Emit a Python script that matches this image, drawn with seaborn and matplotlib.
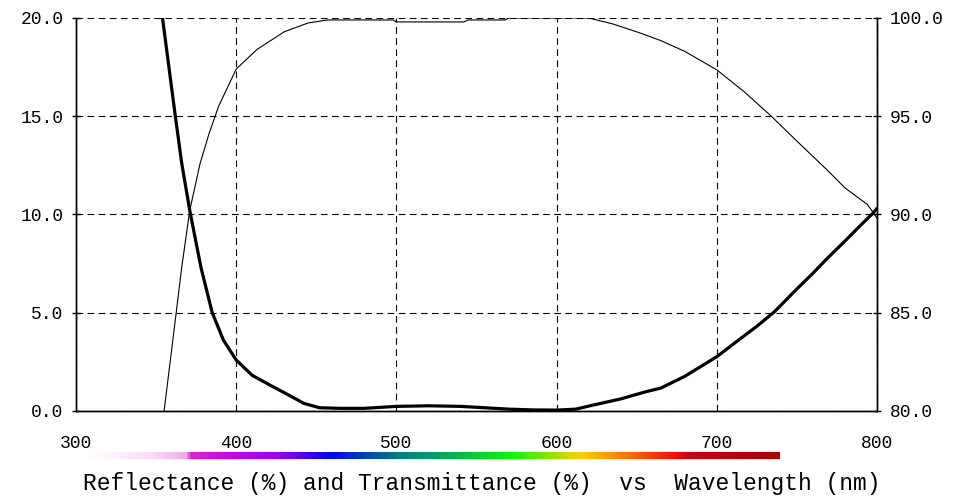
import numpy as np
import matplotlib
matplotlib.use("Agg")
import matplotlib.pyplot as plt
from matplotlib.colors import LinearSegmentedColormap
import seaborn as sns

# reflectance (left axis, %), thick line
refl_wl = [354, 358, 362, 366, 371, 378, 385, 392, 400, 410, 423, 435, 442, 452,
           465, 480, 500, 520, 540, 555, 570, 585, 600, 612, 623, 640, 655, 665,
           680, 690, 700, 712, 725, 736, 750, 760, 769, 780, 790, 798, 800]
refl = [20.0, 17.5, 15.0, 12.6, 10.2, 7.3, 5.0, 3.6, 2.58, 1.8, 1.22, 0.7, 0.38, 0.15,
        0.12, 0.12, 0.22, 0.25, 0.22, 0.15, 0.08, 0.04, 0.03, 0.08, 0.29, 0.6, 0.95, 1.15,
        1.75, 2.25, 2.75, 3.5, 4.3, 5.04, 6.2, 7.0, 7.76, 8.64, 9.46, 10.1, 10.3]

# transmittance (right axis, %), thin line
trans_wl = [355, 360, 366, 371, 377.5, 383, 389, 400, 413, 430, 445, 457, 498, 500,
            542, 545, 568, 570, 620, 635, 652, 665, 680, 700, 717, 734, 750, 769,
            780, 794, 798, 800]
trans = [80.0, 83.3, 87.3, 90.2, 92.6, 94.1, 95.5, 97.4, 98.4, 99.3, 99.75, 99.9, 99.9, 99.8,
         99.8, 99.9, 99.9, 100.0, 100.0, 99.7, 99.24, 98.85, 98.3, 97.36, 96.25, 95.0, 93.73, 92.25,
         91.35, 90.5, 90.05, 89.8]

x_ticks = [300, 400, 500, 600, 700, 800]
left_ticks = [0, 5, 10, 15, 20]
right_ticks = [80, 85, 90, 95, 100]
xlabel = "Reflectance (%) and Transmittance (%)  vs  Wavelength (nm)"

sns.set_style("white")
plt.rcParams['font.family'] = ['Liberation Mono', 'DejaVu Sans Mono']

fig = plt.figure(figsize=(9.58, 4.97), dpi=100)
ax = fig.add_axes([76/958, 1-410.7/497, 801/958, 392.7/497])
ax2 = ax.twinx()

sns.lineplot(x=refl_wl, y=refl, ax=ax, color='black', linewidth=2.3,
             estimator=None, sort=False)
sns.lineplot(x=trans_wl, y=trans, ax=ax2, color='black', linewidth=0.8,
             estimator=None, sort=False)

ax.set_xlim(300, 800)
ax.set_ylim(0, 20)
ax2.set_ylim(80, 100)
ax.set_xticks(x_ticks)
ax.set_yticks(left_ticks)
ax2.set_yticks(right_ticks)
ax.set_yticklabels([f"{v:.1f}" for v in left_ticks])
ax2.set_yticklabels([f"{v:.1f}" for v in right_ticks])
ax.set_xticklabels([str(v) for v in x_ticks])

ax.grid(True, color='black', linestyle=(0, (6, 4)), linewidth=0.8)
ax.set_axisbelow(True)
ax2.grid(False)

for a in (ax, ax2):
    a.spines['top'].set_visible(False)
    for s in ('left', 'right', 'bottom'):
        a.spines[s].set_color('black')
        a.spines[s].set_linewidth(1.0)
    a.tick_params(direction='inout', length=6, width=1, color='black',
                  labelsize=13, labelcolor='black')
ax.tick_params(axis='x', pad=14.5)
ax.tick_params(axis='y', pad=6)
ax2.tick_params(axis='y', pad=6)

# spectrum strip under the x tick labels
spec = LinearSegmentedColormap.from_list('spec', [
    (0.00, '#ffffff'), (0.09, '#fcdcf6'), (0.142, '#f2a8ea'), (0.148, '#e020e0'),
    (0.205, '#d000f0'), (0.28, '#9000ff'), (0.35, '#0000ff'), (0.45, '#008080'),
    (0.51, '#00a860'), (0.615, '#00ff00'), (0.712, '#ffd000'), (0.77, '#ff8000'),
    (0.855, '#ff0000'), (0.868, '#d00010'), (1.00, '#b00000')])
cax = fig.add_axes([87/958, 1-459/497, 693/958, 7/497])
cax.imshow(np.linspace(0, 1, 512)[None, :], aspect='auto', cmap=spec)
cax.set_axis_off()

fig.text(481.5/958, 1-490/497, xlabel, ha='center', va='baseline', fontsize=16.5,
         color='black')

fig.savefig('out.png', dpi=100)
